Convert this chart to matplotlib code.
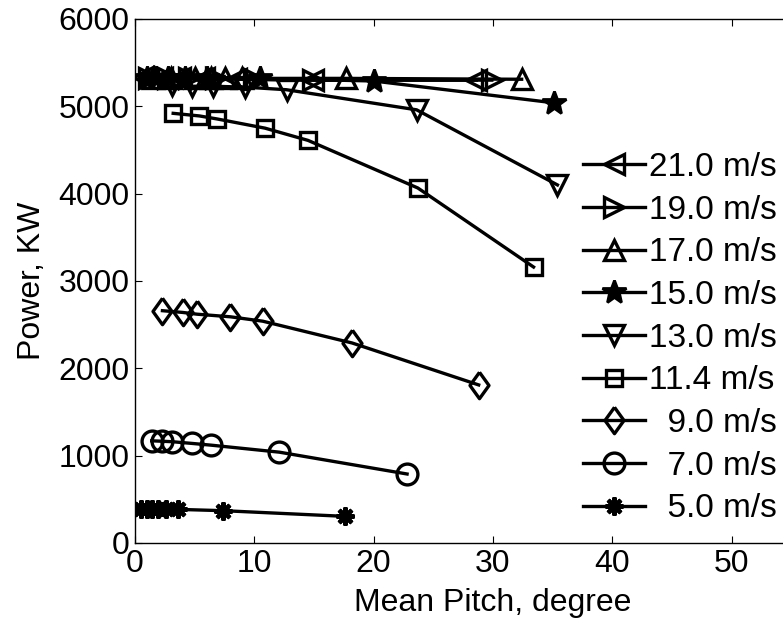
import matplotlib
matplotlib.use("Agg")
import matplotlib.pyplot as plt

plt.rcParams['font.family'] = ['Liberation Sans', 'DejaVu Sans']

labels = ['21.0 m/s', '19.0 m/s', '17.0 m/s', '15.0 m/s', '13.0 m/s',
          '11.4 m/s', '  9.0 m/s', '  7.0 m/s', '  5.0 m/s']

x21 = [0.7, 2.3, 3.8, 5.8, 8.5, 14.9, 28.6]
y21 = [5340, 5330, 5320, 5320, 5310, 5300, 5300]
x19 = [1.2, 2.8, 4.5, 6.8, 10.0, 14.9, 29.9]
y19 = [5330, 5330, 5320, 5320, 5310, 5300, 5300]
x17 = [1.5, 3.0, 5.0, 6.4, 7.5, 9.0, 17.7, 32.4]
y17 = [5330, 5330, 5330, 5330, 5330, 5320, 5320, 5310]
x15 = [1.0, 1.8, 2.8, 4.2, 6.0, 10.5, 20.0, 35.1]
y15 = [5330, 5330, 5330, 5320, 5320, 5320, 5290, 5040]
x13 = [3.1, 4.8, 6.5, 9.2, 12.7, 23.6, 35.4]
y13 = [5240, 5230, 5230, 5220, 5190, 4960, 4100]
x11 = [3.2, 5.4, 6.9, 10.9, 14.5, 23.7, 33.4]
y11 = [4920, 4890, 4855, 4750, 4610, 4065, 3160]
x9 = [2.3, 4.0, 5.2, 8.0, 10.7, 18.2, 28.8]
y9 = [2660, 2640, 2620, 2590, 2540, 2290, 1810]
x7 = [1.4, 2.3, 3.1, 4.8, 6.4, 12.1, 22.8]
y7 = [1170, 1165, 1160, 1140, 1120, 1040, 790]
x5 = [0.5, 1.0, 1.4, 1.9, 2.6, 3.6, 7.4, 17.6]
y5 = [395, 395, 395, 390, 390, 385, 370, 305]

series = [(x21, y21), (x19, y19), (x17, y17), (x15, y15), (x13, y13),
          (x11, y11), (x9, y9), (x7, y7), (x5, y5)]
diamond = [(0, 1), (0.72, 0), (0, -1), (-0.72, 0), (0, 1)]
markers = ['<', '>', '^', '*', 'v', 's', diamond, 'o', (8, 2, 0)]
msizes = [15, 15, 15, 18, 15, 12, 19, 15, 13]
mews = [2.4, 2.4, 2.4, 2.0, 2.4, 2.4, 2.4, 2.4, 3.0]
faces = ['none', 'none', 'none', 'black', 'none', 'none', 'none', 'none', 'none']

W, H = 783, 621
fig = plt.figure(figsize=(W / 100, H / 100), dpi=100)
ax = fig.add_axes([135 / W, 1 - 543 / H, 716 / W, (543 - 19) / H])

for (xs, ys), m, ms, mw, fc, lab in zip(series, markers, msizes, mews, faces, labels):
    ax.plot(xs, ys, color='black', lw=2.4, marker=m, ms=ms,
            mfc=fc, mec='black', mew=mw, label=lab)

ax.set_xlim(0, 60)
ax.set_ylim(0, 6000)
ax.set_xticks([0, 10, 20, 30, 40, 50])
ax.set_yticks([0, 1000, 2000, 3000, 4000, 5000, 6000])
ax.tick_params(direction='in', length=5, width=0.8, labelsize=23,
               top=True, right=True, pad=4)
for s in ax.spines.values():
    s.set_linewidth(1.0)
ax.set_xlabel('Mean Pitch, degree', fontsize=23, labelpad=7)
ax.set_ylabel('Power, KW', fontsize=23, labelpad=8)

leg = fig.legend(loc='upper left', bbox_to_anchor=(583 / W, 1 - 152 / H),
                 frameon=False, fontsize=24, handlelength=1.86,
                 handletextpad=0.12, labelspacing=0.35, borderpad=0,
                 borderaxespad=0)

fig.savefig('out.png', dpi=100)
